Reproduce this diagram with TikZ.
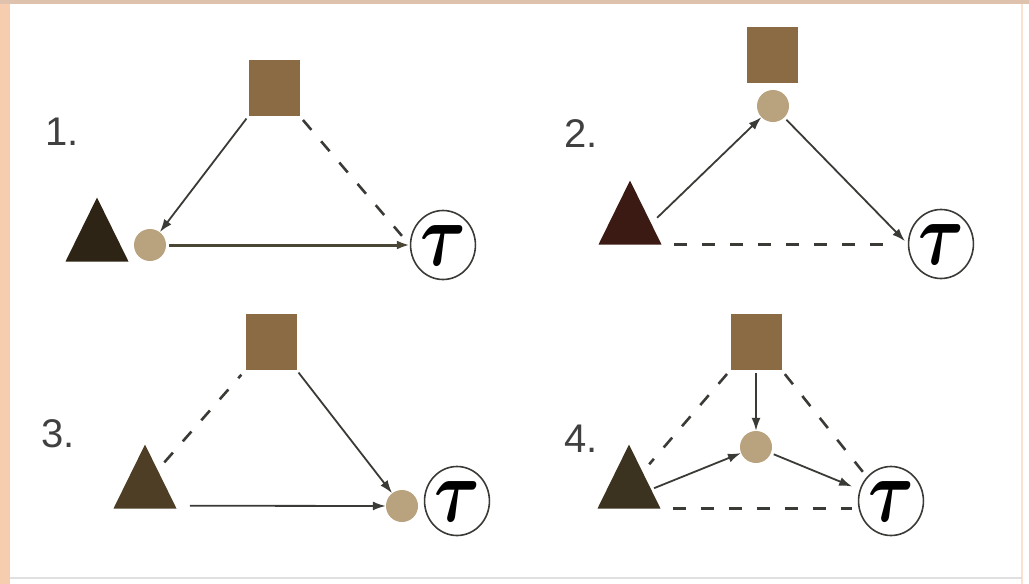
\documentclass[tikz,border=0pt]{standalone}
\usepackage{graphicx}
\usepackage{fontspec}
\setmainfont{Liberation Sans}
\usetikzlibrary{shapes.geometric,arrows.meta,calc}

\definecolor{marron}{HTML}{8B6B43}
\definecolor{arena}{HTML}{B9A37E}
\definecolor{linea}{HTML}{3A3A36}
\definecolor{lineauno}{HTML}{4A4636}
\definecolor{melocoton}{HTML}{F7CDB0}
\definecolor{techo}{HTML}{DFC2AE}
\definecolor{triuno}{HTML}{2E2416}
\definecolor{tridos}{HTML}{3A1A12}
\definecolor{tritres}{HTML}{4D3E25}
\definecolor{tricuatro}{HTML}{3B3220}

\newcommand{\letraT}{\scalebox{7}[9]{\boldmath$\tau$}}

\tikzset{
    cuadro/.style={rectangle, fill=marron, minimum width=51pt, minimum height=56pt, inner sep=0pt},
    punto/.style={circle, fill=arena, minimum size=32pt, inner sep=0pt},
    triang/.style={isosceles triangle, shape border rotate=90, isosceles triangle stretches,
        minimum width=63pt, minimum height=64pt, inner sep=0pt, anchor=apex},
    sigla/.style={ellipse, draw=linea, line width=1.6pt, fill=white, minimum width=61pt,
        minimum height=69pt, inner sep=0pt, font=\fontsize{10}{10}\selectfont},
    flecha/.style={linea, line width=1.8pt, -{Latex[length=13pt,width=9pt]}, shorten <=3pt},
    rayas/.style={linea, line width=2.6pt, dash pattern=on 13pt off 15pt},
    numero/.style={font=\fontsize{40}{40}\selectfont, text=black!75}
}

\begin{document}
\begin{tikzpicture}[x=1pt, y=-1pt]
    \useasboundingbox (0,0) rectangle (1029,584);
    % Marco
    \fill[melocoton] (0,0) rectangle (10,584);
    \fill[techo] (0,0) rectangle (1029,4);
    \draw[line width=1.5pt, melocoton!60] (1022,4) -- (1022,584);
    \draw[line width=1.5pt, black!12] (10,578) -- (1022,578);

    % Caso 1
    \node[numero] (n1) at (62,132) {1.};
    \node[cuadro] (sq1) at (274,88) {};
    \node[triang, fill=triuno] (tri1) at (97,197) {};
    \node[punto] (dot1) at (150,245) {};
    \node[sigla] (tau1) at (443,245) {\letraT};
    \draw[flecha] (sq1.south west) -- (dot1);
    \draw[rayas, shorten <=5pt, shorten >=12pt] (sq1.south east) -- (tau1.west);
    \draw[flecha, line width=3pt, lineauno] (dot1) -- (tau1);

    % Caso 2
    \node[numero] (n2) at (581,134) {2.};
    \node[cuadro] (sq2) at (772,55) {};
    \node[punto] (dot2) at (773,106) {};
    \node[triang, fill=tridos] (tri2) at (630,180) {};
    \node[sigla] (tau2) at (941,244) {\letraT};
    \draw[flecha, shorten <=8pt] ($(tri2.apex)!0.67!(tri2.right corner)$) -- (dot2);
    \draw[flecha, shorten >=4pt] (dot2) -- (tau2.west);
    \draw[rayas, shorten <=12pt, shorten >=10pt] (tri2.right corner) -- (tri2.right corner -| tau2.west);

    % Caso 3
    \node[numero] (n3) at (58,434) {3.};
    \node[cuadro] (sq3) at (271,342) {};
    \node[triang, fill=tritres] (tri3) at (145,444) {};
    \node[punto] (dot3) at (402,506) {};
    \node[sigla] (tau3) at (457,501) {\letraT};
    \draw[rayas, shorten <=10pt, shorten >=6pt] ($(tri3.apex)!0.4!(tri3.right corner)$) -- (sq3.south west);
    \draw[flecha] (sq3.south east) -- (dot3);
    \draw[flecha, shorten <=13pt] ([yshift=3pt]tri3.right corner) -- (dot3);

    % Caso 4
    \node[numero] (n4) at (581,439) {4.};
    \node[cuadro] (sq4) at (756,342) {};
    \node[punto] (dot4) at (756,447) {};
    \node[triang, fill=tricuatro] (tri4) at (629,444) {};
    \node[sigla] (tau4) at (891,501) {\letraT};
    \draw[flecha] (sq4) -- (dot4);
    \draw[rayas, shorten <=5pt, shorten >=10pt] (sq4.south west) -- ($(tri4.apex)!0.43!(tri4.right corner)$);
    \draw[rayas, shorten <=5pt, shorten >=4pt] (sq4.south east) -- (tau4.135);
    \draw[flecha] ($(tri4.apex)!0.7!(tri4.right corner)$) -- (dot4);
    \draw[flecha, shorten >=8pt] (dot4) -- (tau4.160);
    \draw[rayas, shorten <=12pt, shorten >=6pt] (tri4.right corner) -- (tri4.right corner -| tau4.west);
\end{tikzpicture}
\end{document}
